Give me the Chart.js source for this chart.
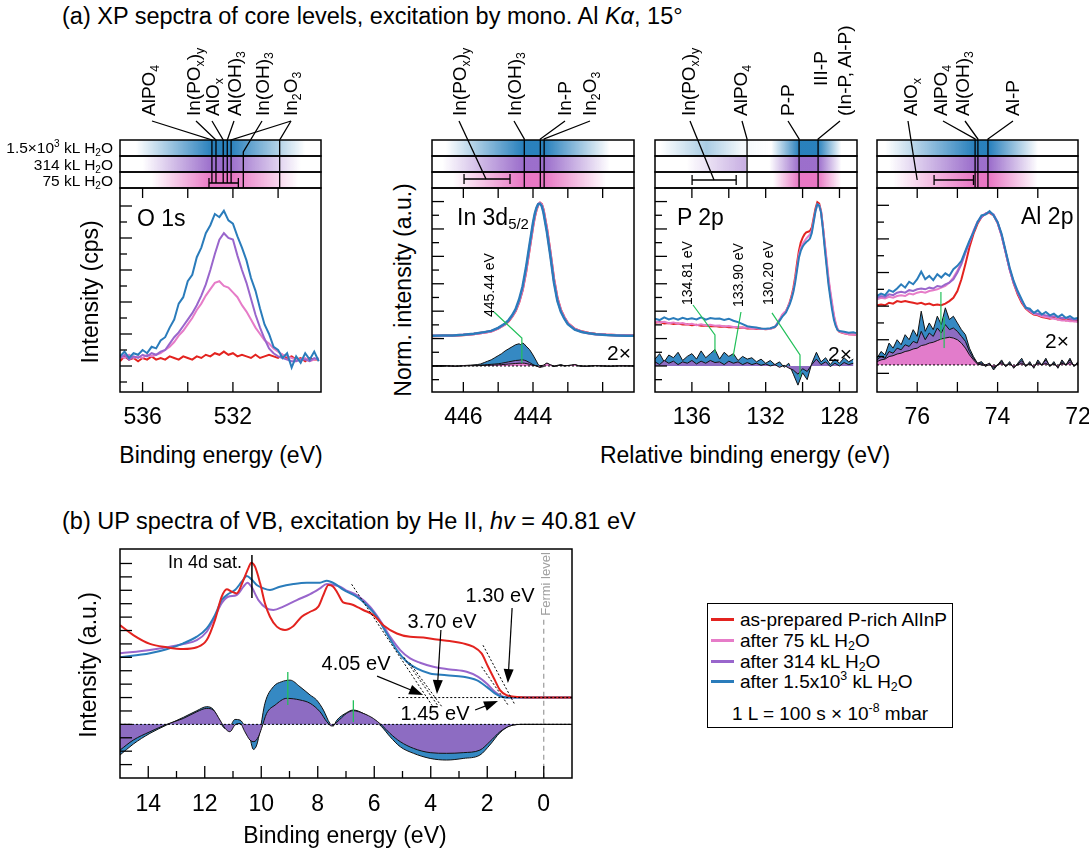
<!DOCTYPE html>
<html><head><meta charset="utf-8">
<script src="https://cdn.jsdelivr.net/npm/chart.js@4.4.1/dist/chart.umd.min.js"></script>
<style>
html,body{margin:0;padding:0;background:#fff;}
#fig{position:relative;width:1089px;height:851px;overflow:hidden;font-family:'Liberation Sans',Arial,Helvetica,sans-serif;color:#000;background:#fff;}
#fig canvas{position:absolute;}
.t{position:absolute;white-space:nowrap;line-height:1;}
.c{transform:translate(-50%,-50%);}
.lm{transform:translate(0,-50%);}
.rv{transform:translate(-50%,-50%) rotate(-90deg);}
sub,sup{font-size:0.65em;line-height:0;}
sub{vertical-align:-0.32em;} sup{vertical-align:0.6em;}
</style></head>
<body><div id="fig"></div>
<script>
// ---------------- DATA ----------------
// O 1s (binding energy, eV)
const O1S_E=[537.0,536.8,536.6,536.4,536.2,536.0,535.8,535.6,535.4,535.2,535.0,534.8,534.6,534.4,534.2,534.0,533.8,533.6,533.4,533.2,533.0,532.8,532.6,532.4,532.2,532.0,531.8,531.6,531.4,531.2,531.0,530.8,530.6,530.4,530.2,530.0,529.8,529.6,529.4,529.2,529.0,528.8,528.6,528.4,528.2];
const O1S_BLUE=[1.6,1.9,1.5,1.8,1.7,2.0,1.8,2.2,2.1,2.6,2.8,3.4,3.9,4.9,5.3,6.3,6.7,7.8,8.4,9.3,9.8,10.5,10.3,10.7,10.1,9.9,9.1,8.4,7.6,6.5,5.7,4.6,3.6,3.0,2.2,2.0,1.5,1.8,0.9,1.6,1.2,1.8,1.4,1.9,1.3];
const O1S_PURPLE=[1.5,1.7,1.4,1.6,1.5,1.7,1.6,1.8,1.7,1.9,2.0,2.4,2.8,3.1,3.5,3.9,4.3,4.8,5.4,6.1,7.0,8.0,8.9,9.3,9.0,8.9,7.9,7.0,6.2,5.2,4.2,3.4,2.7,2.1,1.8,1.6,1.5,1.4,1.3,1.3,1.4,1.4,1.3,1.5,1.4];
const O1S_PINK=[1.6,1.5,1.7,1.5,1.6,1.5,1.7,1.6,1.7,1.8,2.0,2.2,2.5,2.9,3.2,3.6,4.0,4.5,4.9,5.4,5.8,6.2,6.3,6.0,5.9,5.6,5.3,4.8,4.4,3.9,3.4,3.0,2.6,2.4,2.1,1.9,1.7,1.6,1.5,1.4,1.4,1.5,1.3,1.4,1.5];
const O1S_RED=[1.3,1.6,1.4,1.5,1.3,1.5,1.4,1.6,1.4,1.5,1.4,1.6,1.5,1.4,1.6,1.5,1.4,1.6,1.5,1.7,1.6,1.8,1.7,1.9,1.7,1.8,1.6,1.7,1.6,1.5,1.7,1.5,1.6,1.7,1.6,1.5,1.7,1.5,1.6,1.4,1.5,1.3,1.5,1.4,1.4];

// In 3d5/2 (relative binding energy, eV)
const IN_E=[446.9,446.6,446.3,446.0,445.7,445.4,445.2,445.0,444.8,444.7,444.6,444.5,444.4,444.3,444.2,444.1,444.0,443.95,443.9,443.85,443.8,443.75,443.7,443.6,443.5,443.4,443.3,443.2,443.1,443.0,442.8,442.6,442.4,442.2,441.9,441.6,441.3,441.1];
const IN_BLUE=[2.21,2.22,2.23,2.28,2.35,2.47,2.56,2.78,3.1,3.35,3.7,4.15,4.85,5.8,7.2,8.85,10.45,11.1,11.55,11.82,11.85,11.68,11.2,9.75,8.0,6.1,4.75,3.95,3.45,3.05,2.65,2.48,2.38,2.31,2.26,2.23,2.21,2.21];
const IN_PINK=[2.2,2.21,2.23,2.27,2.34,2.45,2.54,2.75,3.05,3.3,3.62,4.05,4.7,5.6,6.95,8.6,10.25,10.95,11.45,11.8,11.9,11.78,11.35,9.95,8.2,6.3,4.9,4.05,3.52,3.1,2.68,2.5,2.39,2.32,2.27,2.24,2.22,2.22];
const IN_RED=[2.19,2.2,2.22,2.26,2.33,2.44,2.53,2.74,3.04,3.28,3.6,4.02,4.66,5.55,6.9,8.55,10.2,10.9,11.42,11.78,11.9,11.8,11.4,10.0,8.25,6.35,4.95,4.08,3.55,3.12,2.7,2.51,2.4,2.33,2.28,2.25,2.23,2.22];
const IND_E=[446.9,446.5,446.2,446.0,445.8,445.6,445.5,445.4,445.3,445.2,445.1,445.0,444.9,444.8,444.7,444.6,444.5,444.4,444.35,444.3,444.25,444.2,444.1,444.0,443.9,443.85,443.8,443.7,443.6,443.5,443.4,443.3,443.2,443.1,442.9,442.8,442.7,442.5,442.2,441.8,441.5,441.1];
const IND_BLUE=[0,0.02,-0.03,0.03,0.06,0.1,0.15,0.25,0.35,0.45,0.6,0.75,0.9,1.1,1.25,1.4,1.55,1.62,1.55,1.68,1.6,1.45,1.2,0.8,0.35,0.1,0.02,0.05,0.2,0.08,-0.02,0.05,0.1,0.02,0.05,0.1,0.03,-0.03,0.02,-0.02,0.02,0];
const IND_PURPLE=[0,0.01,0.0,0.02,0.03,0.05,0.06,0.08,0.1,0.12,0.14,0.16,0.2,0.25,0.3,0.35,0.4,0.42,0.44,0.45,0.42,0.38,0.25,0.1,0.0,-0.05,-0.1,-0.05,0.15,0.05,-0.05,0.02,0.06,0.02,0.04,0.08,0.0,-0.02,0.03,-0.02,0.01,0];
const IND_PINK=[0,0,-0.02,0.01,0.02,0.02,0.03,0.04,0.05,0.06,0.07,0.08,0.1,0.12,0.14,0.16,0.18,0.2,0.2,0.21,0.2,0.18,0.12,0.05,0.0,-0.05,-0.08,0.05,0.22,0.08,0.0,0.03,0.04,0.0,0.06,0.1,0.02,-0.02,0.02,-0.01,0.01,0];

// P 2p
const P_E=[138.0,137.75,137.5,137.25,137.0,136.75,136.5,136.25,136.0,135.75,135.5,135.25,135.0,134.75,134.5,134.25,134.0,133.75,133.5,133.25,133.0,132.75,132.5,132.25,132.0,131.75,131.5,131.4,131.3,131.2,131.1,131.0,130.9,130.8,130.7,130.6,130.5,130.4,130.3,130.2,130.1,130.0,129.9,129.8,129.7,129.6,129.5,129.4,129.3,129.2,129.1,129.0,128.9,128.8,128.7,128.6,128.5,128.4,128.3,128.2,128.1,128.0,127.75,127.5,127.25,127.1];
const P_PINK=[3.25,3.18,3.22,3.12,3.18,3.08,3.14,3.03,3.08,2.98,3.04,2.96,3.0,2.93,2.95,2.88,2.92,2.84,2.85,2.79,2.8,2.74,2.74,2.69,2.7,2.7,2.85,3.05,3.3,3.5,3.75,3.9,4.0,4.3,4.6,5.0,5.5,6.3,7.2,8.1,8.6,8.9,9.1,9.3,9.45,9.6,9.9,10.6,11.3,11.8,11.75,11.3,10.2,9.0,7.8,6.5,5.5,4.6,3.7,3.1,2.7,2.5,2.4,2.32,2.3,2.27];
const P_RED=[3.15,3.2,3.1,3.14,3.06,3.1,3.02,3.05,2.98,3.0,2.93,2.96,2.9,2.92,2.86,2.88,2.82,2.84,2.78,2.8,2.74,2.76,2.7,2.72,2.68,2.72,2.84,3.0,3.25,3.45,3.7,3.85,4.0,4.3,4.65,5.1,5.7,6.5,7.5,8.4,9.0,9.35,9.6,9.75,9.8,9.85,10.1,10.8,11.5,11.95,11.85,11.3,10.2,8.9,7.6,6.3,5.3,4.4,3.6,3.0,2.65,2.48,2.38,2.32,2.3,2.28];
const P_BLUE=[3.45,3.35,3.55,3.4,3.5,3.38,3.52,3.42,3.48,3.4,3.55,3.38,3.5,3.44,3.46,3.36,3.45,3.3,3.2,3.05,2.9,2.85,2.8,2.74,2.72,2.76,2.86,3.0,3.2,3.4,3.6,3.75,3.9,4.2,4.5,4.9,5.4,6.1,7.0,7.9,8.4,8.7,8.9,9.05,9.15,9.3,9.7,10.5,11.3,11.8,11.7,11.2,10.0,8.6,7.3,6.0,5.0,4.1,3.35,2.9,2.62,2.55,2.5,2.42,2.46,2.4];
const PD_E=[138.0,137.75,137.5,137.25,137.0,136.75,136.5,136.25,136.0,135.75,135.5,135.25,135.0,134.75,134.5,134.25,134.0,133.75,133.5,133.25,133.0,132.75,132.5,132.25,132.0,131.75,131.5,131.25,131.0,130.75,130.5,130.25,130.0,129.75,129.5,129.25,129.0,128.75,128.5,128.25,128.0,127.75,127.5,127.25];
const PD_BLUE=[0.5,0.9,0.3,0.8,0.6,1.0,0.4,0.7,0.9,0.5,1.1,0.6,0.9,1.2,0.5,1.0,0.7,0.9,0.4,0.7,0.5,0.6,0.3,0.5,0.2,0.4,0.1,0.3,-0.1,0.2,-0.6,-1.4,-0.5,-1.0,0.2,1.0,0.3,0.6,0.1,0.5,0.2,0.6,0.3,0.5];
const PD_PURPLE=[0.3,0.1,0.4,0.2,0.35,0.1,0.3,0.2,0.4,0.15,0.35,0.2,0.4,0.25,0.3,0.1,0.35,0.2,0.3,0.1,0.25,0.1,0.2,0.05,0.15,0.0,0.1,-0.1,0.05,-0.15,-0.3,-0.6,-0.2,-0.4,0.1,0.5,0.1,0.3,-0.05,0.2,0.0,0.25,0.1,0.2];

// Al 2p
const AL_E=[77.0,76.9,76.8,76.7,76.6,76.5,76.4,76.3,76.2,76.1,76.0,75.9,75.8,75.7,75.6,75.5,75.4,75.3,75.2,75.1,75.0,74.9,74.8,74.7,74.6,74.5,74.4,74.3,74.2,74.1,74.0,73.9,73.8,73.7,73.6,73.5,73.4,73.3,73.2,73.1,73.0,72.9,72.8,72.7,72.6,72.5,72.4,72.3,72.2,72.1,72.0];
const AL_BLUE=[4.6,4.75,4.65,4.95,4.85,5.05,5.3,5.1,5.45,5.3,5.6,6.05,5.6,5.8,5.55,5.9,5.7,5.95,5.8,6.2,6.4,6.7,7.3,7.9,8.4,9.0,9.4,9.45,9.65,9.4,9.0,8.3,7.3,6.3,5.5,4.9,4.4,3.9,3.85,3.6,3.75,3.5,3.65,3.45,3.55,3.35,3.5,3.3,3.4,3.25,3.3];
const AL_PURPLE=[4.5,4.6,4.55,4.7,4.65,4.8,4.85,4.8,4.95,4.9,5.0,5.05,5.0,5.1,5.05,5.2,5.15,5.3,5.4,5.6,6.0,6.5,7.2,7.8,8.4,9.0,9.3,9.5,9.6,9.45,9.0,8.2,7.2,6.2,5.4,4.8,4.3,3.95,3.75,3.6,3.55,3.5,3.45,3.4,3.4,3.35,3.3,3.3,3.25,3.2,3.2];
const AL_PINK=[4.4,4.5,4.45,4.55,4.5,4.6,4.65,4.6,4.75,4.7,4.8,4.85,4.8,4.9,4.95,5.0,5.1,5.2,5.4,5.7,6.1,6.6,7.2,7.8,8.5,9.0,9.35,9.5,9.6,9.4,8.95,8.2,7.2,6.2,5.4,4.8,4.3,3.9,3.7,3.55,3.5,3.4,3.35,3.3,3.25,3.2,3.15,3.15,3.1,3.1,3.05];
const AL_RED=[4.05,4.1,4.05,4.2,4.15,4.3,4.25,4.3,4.25,4.2,4.15,4.2,4.1,4.15,4.05,4.1,4.05,4.15,4.3,4.5,4.9,5.6,6.5,7.5,8.3,8.9,9.3,9.5,9.55,9.4,8.95,8.2,7.2,6.2,5.35,4.7,4.2,3.85,3.65,3.5,3.45,3.35,3.3,3.25,3.3,3.2,3.25,3.15,3.2,3.1,3.15];
const ALD_BLUE=[0.9,1.3,1.1,1.8,1.5,2.0,1.7,2.3,2.0,2.6,2.2,3.7,2.5,3.0,2.6,3.4,2.9,3.9,3.2,3.4,3.0,2.6,2.3,1.5,1.0,0.6,0.7,0.4,0.6,0.2,0.5,0.8,0.4,0.7,0.3,0.6,0.9,0.4,0.7,0.3,0.8,0.5,0.9,0.4,0.7,0.3,0.8,0.5,0.9,0.4,0.7];
const ALD_PURPLE=[0.8,1.0,0.9,1.3,1.2,1.5,1.4,1.7,1.6,1.9,1.8,2.5,2.0,2.4,2.2,2.7,2.4,2.9,2.6,2.7,2.5,2.2,1.9,1.3,0.9,0.6,0.6,0.5,0.6,0.3,0.5,0.7,0.4,0.6,0.35,0.55,0.75,0.45,0.6,0.35,0.7,0.5,0.8,0.45,0.6,0.35,0.7,0.5,0.8,0.45,0.6];
const ALD_PINK=[0.7,0.8,0.85,1.0,1.05,1.15,1.2,1.3,1.35,1.45,1.5,1.65,1.7,1.8,1.85,1.95,2.05,2.1,2.15,2.1,2.0,1.8,1.5,1.1,0.8,0.55,0.5,0.45,0.5,0.4,0.5,0.6,0.45,0.55,0.4,0.5,0.6,0.45,0.55,0.4,0.6,0.5,0.6,0.45,0.55,0.4,0.6,0.5,0.65,0.45,0.55];

// UPS valence band (binding energy, eV)
const VB_RED_E=[15.0,14.53,13.94,13.35,12.76,12.28,11.93,11.64,11.4,11.22,11.05,10.87,10.63,10.46,10.35,10.22,10.04,9.87,9.69,9.45,9.16,8.86,8.57,8.27,7.98,7.8,7.62,7.45,7.3,7.1,6.9,6.74,6.55,6.39,6.03,5.68,5.2,4.73,4.26,3.79,3.33,2.85,2.5,2.2,1.97,1.73,1.55,1.32,1.04,0.8,0.4,-1.0];
const VB_RED=[7.4,6.66,6.0,5.75,5.62,5.75,6.29,7.78,9.52,10.07,9.9,9.77,10.77,11.64,12.06,11.76,10.52,9.03,8.03,7.29,7.04,7.34,8.03,8.4,8.78,9.65,10.4,10.27,9.8,9.1,9.0,8.9,8.7,8.53,8.16,7.4,6.78,6.53,6.48,6.33,6.21,6.04,5.79,5.29,4.3,3.3,2.56,2.18,2.06,2.02,2.0,2.0];
const VB_BLUE_E=[15.0,13.94,13.35,12.76,12.28,11.93,11.64,11.4,11.17,10.93,10.69,10.51,10.35,10.16,9.93,9.69,9.34,8.86,8.39,7.92,7.68,7.4,7.1,6.62,6.27,5.91,5.56,5.2,4.85,4.5,4.03,3.44,2.85,2.38,2.02,1.73,1.5,1.2,0.5,-1.0];
const VB_BLUE=[5.0,5.3,5.6,6.04,6.54,7.16,8.15,9.27,9.72,10.02,10.64,11.07,10.82,10.39,10.15,10.02,10.27,10.47,10.57,10.57,10.72,10.5,10.05,9.52,8.9,8.03,6.78,5.54,4.67,4.17,3.8,3.67,3.55,3.3,2.8,2.31,2.06,2.0,2.0,2.0];
const VB_PURPLE_E=[15.0,13.94,13.35,12.76,12.28,11.93,11.64,11.4,11.17,10.87,10.63,10.49,10.35,10.1,9.81,9.57,9.22,8.74,8.27,7.92,7.68,7.21,7.0,6.62,6.15,5.8,5.44,5.08,4.73,4.38,3.91,3.32,2.73,2.32,2.02,1.73,1.5,1.2,0.5,-1.0];
const VB_PURPLE=[5.3,5.55,5.75,6.0,6.29,6.91,8.03,9.03,9.52,9.65,10.27,10.57,10.27,9.27,8.65,8.53,8.78,9.27,9.72,10.15,10.47,10.27,10.0,9.65,8.78,7.78,6.54,5.54,4.92,4.6,4.3,4.1,3.92,3.55,3.05,2.43,2.11,2.0,2.0,2.0];
const VBD_PURPLE_E=[15.0,14.53,13.94,13.35,12.76,12.28,11.93,11.7,11.46,11.28,11.11,10.93,10.75,10.58,10.4,10.26,10.1,9.99,9.81,9.51,9.1,8.63,8.27,7.92,7.68,7.51,7.33,6.98,6.74,6.39,6.03,5.74,5.44,5.08,4.61,4.02,3.44,2.85,2.26,1.91,1.55,1.2,0.73,-1.0];
const VBD_PURPLE=[-1.92,-1.17,-0.55,0.0,0.44,0.94,1.19,1.07,0.32,-0.3,-0.55,-0.05,0.07,-0.55,-1.17,-1.29,-0.92,-0.3,0.82,1.44,1.94,1.82,1.57,0.94,0.2,-0.12,0.15,0.82,1.02,0.82,0.44,-0.05,-0.68,-1.29,-1.79,-2.11,-2.16,-2.11,-1.92,-1.29,-0.55,-0.12,0.0,0.0];
const VBD_BLUE_E=[15.0,14.53,13.94,13.35,12.76,12.28,11.93,11.7,11.46,11.28,11.11,10.93,10.75,10.58,10.4,10.28,10.16,10.04,9.87,9.57,9.28,8.98,8.63,8.27,8.04,7.8,7.57,7.45,7.33,6.98,6.74,6.39,6.03,5.74,5.44,5.08,4.61,4.02,3.44,2.85,2.26,1.91,1.55,1.2,0.73,-1.0];
const VBD_BLUE=[-2.29,-1.47,-0.67,-0.05,0.52,1.02,1.32,1.12,0.2,-0.3,-0.17,0.37,0.32,-0.17,-1.04,-1.87,-1.54,-0.42,1.57,2.81,3.18,3.3,2.81,2.19,1.82,1.07,0.07,-0.12,0.3,0.87,1.07,0.82,0.32,-0.17,-0.92,-1.67,-2.16,-2.54,-2.66,-2.54,-2.29,-1.54,-0.62,-0.12,0.0,0.0];

// tick values / labels
const O1S_XTICKS=[536,534,532,530], O1S_XLABELS=[536,532];
const IN_XTICKS=[446,445,444,443,442], IN_XLABELS=[446,444];
const P_XTICKS=[136,134,132,130,128], P_XLABELS=[136,132,128];
const AL_XTICKS=[76,75,74,73], AL_XLABELS=[76,74,72];
const VB_XTICKS=[14,13,12,11,10,9,8,7,6,5,4,3,2,1,0], VB_XLABELS=[14,12,10,8,6,4,2,0];
const SERIES_NAMES=['as-prepared P-rich AlInP','after 75 kL H<sub>2</sub>O','after 314 kL H<sub>2</sub>O','after 1.5x10<sup>3</sup> kL H<sub>2</sub>O'];

// ---------------- STYLE ----------------
const COL={red:'#e3231f',pink:'#e67cc8',purple:'#9966cc',blue:'#2a7cbb'};
const FILL={blue:'#3589c3',purple:'#8d6cc2',pink:'#e27ccb'};
const ROWCOL=['30,122,185','145,95,198','228,96,186'];
const FONT='"Liberation Sans", Arial, Helvetica, sans-serif';
const fig=document.getElementById('fig');

function pts(E,V){return E.map((e,i)=>({x:e,y:V[i]}));}
function line(E,V,color,order,w){return {data:pts(E,V),borderColor:color,borderWidth:w||2,pointRadius:0,fill:false,order:order,tension:0};}
function diff(E,V,color,order,base){return {data:pts(E,V),borderColor:'#111',borderWidth:1,backgroundColor:color,pointRadius:0,fill:{value:base||0},order:order,tension:0};}

function txt(html,css){const d=document.createElement('div');d.className='t';d.innerHTML=html;d.style.cssText+=css;fig.appendChild(d);return d;}
function vlabel(html,xc,yb,fs){const h=Math.round(fs*1.2);txt(html,`left:${xc-h/2}px;top:${yb}px;line-height:${h}px;font-size:${fs}px;transform-origin:0 0;transform:rotate(-90deg);`);}

function drawArrow(ctx,x1,y1,x2,y2,hl,hw){
  const a=Math.atan2(y2-y1,x2-x1);
  ctx.beginPath();ctx.moveTo(x1,y1);ctx.lineTo(x2-hl*0.8*Math.cos(a),y2-hl*0.8*Math.sin(a));ctx.stroke();
  ctx.beginPath();ctx.moveTo(x2,y2);
  ctx.lineTo(x2-hl*Math.cos(a)+hw*Math.sin(a),y2-hl*Math.sin(a)-hw*Math.cos(a));
  ctx.lineTo(x2-hl*Math.cos(a)-hw*Math.sin(a),y2-hl*Math.sin(a)+hw*Math.cos(a));
  ctx.closePath();ctx.fill();
}

function makePanel(p){
  const cv=document.createElement('canvas');
  cv.width=p.box[2];cv.height=p.box[3];
  cv.style.left=p.box[0]+'px';cv.style.top=p.box[1]+'px';
  cv.style.width=p.box[2]+'px';cv.style.height=p.box[3]+'px';
  fig.appendChild(cv);
  const plugin={id:'deco',
    beforeDatasetsDraw(chart){const ctx=chart.ctx;ctx.save();if(p.before)p.before(chart,ctx);ctx.restore();},
    afterDatasetsDraw(chart){
      const ctx=chart.ctx,ca=chart.chartArea,xs=chart.scales.x,ys=chart.scales.y;
      ctx.save();
      ctx.strokeStyle='#000';ctx.fillStyle='#000';
      if(p.after)p.after(chart,ctx);
      ctx.setLineDash([]);ctx.strokeStyle='#000';ctx.fillStyle='#000';
      ctx.lineWidth=1.5;
      ctx.strokeRect(ca.left,ca.top,ca.right-ca.left,ca.bottom-ca.top);
      ctx.lineWidth=1.3;
      p.xticks.forEach(v=>{const x=xs.getPixelForValue(v);const L=p.xtickLen(v);
        ctx.beginPath();ctx.moveTo(x,ca.bottom);ctx.lineTo(x,ca.bottom-L);ctx.stroke();
        if(p.topTicks){ctx.beginPath();ctx.moveTo(x,ca.top);ctx.lineTo(x,ca.top+L);ctx.stroke();}});
      p.yticks.forEach((v,i)=>{const y=ys.getPixelForValue(v);const L=p.ytickLen(v,i);
        ctx.beginPath();ctx.moveTo(ca.left,y);ctx.lineTo(ca.left+L,y);ctx.stroke();});
      ctx.font='23px '+FONT;ctx.textAlign='center';ctx.textBaseline='middle';
      p.xlabels.forEach(v=>{ctx.fillText(String(v),xs.getPixelForValue(v),ca.bottom+p.labelDy);});
      ctx.restore();
    }};
  return new Chart(cv.getContext('2d'),{type:'line',data:{datasets:p.datasets},
    options:{responsive:false,animation:false,devicePixelRatio:1,events:[],
      layout:{padding:p.pad},
      plugins:{legend:{display:false},tooltip:{enabled:false}},
      elements:{point:{radius:0}},
      scales:{x:{type:'linear',reverse:true,min:p.xr[1],max:p.xr[0],display:false},
              y:{type:'linear',min:p.yr[0],max:p.yr[1],display:false}}},
    plugins:[plugin]});
}

function headerDraw(H,ox,oy){
  return function(chart,ctx){
    const ca=chart.chartArea,xs=chart.scales.x;
    const top=ca.top-48,rh=16;
    H.rows.forEach((stops,i)=>{
      const y=top+i*rh;
      const pp=stops.map(s=>[xs.getPixelForValue(s[0]),s[1]]);
      const x0=pp[0][0],x1=pp[pp.length-1][0];
      const g=ctx.createLinearGradient(x0,0,x1,0);
      pp.forEach(q=>g.addColorStop(Math.min(1,Math.max(0,(q[0]-x0)/(x1-x0))),`rgba(${ROWCOL[i]},${q[1]})`));
      ctx.fillStyle=g;ctx.fillRect(ca.left,y,ca.right-ca.left,rh);
    });
    ctx.strokeStyle='#000';ctx.lineWidth=1.5;
    for(let i=0;i<3;i++)ctx.strokeRect(ca.left,top+i*rh,ca.right-ca.left,rh);
    ctx.lineWidth=1.3;
    H.comps.forEach(c=>{const x=xs.getPixelForValue(c.E);ctx.beginPath();
      ctx.moveTo(c.lab[0]-ox,c.lab[1]-oy);ctx.lineTo(x,c.y0-oy);ctx.lineTo(x,c.y1-oy);ctx.stroke();});
    const b=H.bar;
    if(b){const xa=xs.getPixelForValue(b.E0),xb=xs.getPixelForValue(b.E1),y=b.y-oy;
      ctx.beginPath();ctx.moveTo(xa,y);ctx.lineTo(xb,y);
      ctx.moveTo(xa,y-5);ctx.lineTo(xa,y+5);ctx.moveTo(xb,y-5);ctx.lineTo(xb,y+5);ctx.stroke();
      if(b.lab){ctx.beginPath();ctx.moveTo(b.lab[0]-ox,b.lab[1]-oy);ctx.lineTo(xs.getPixelForValue(b.Em),y);ctx.stroke();}}
  };
}
function greenLines(list){
  return function(chart,ctx){
    const xs=chart.scales.x,ys=chart.scales.y;
    ctx.strokeStyle='#22c05a';ctx.lineWidth=1.2;
    list.forEach(pl=>{ctx.beginPath();pl.forEach((q,i)=>{const x=xs.getPixelForValue(q[0]),y=ys.getPixelForValue(q[1]);i?ctx.lineTo(x,y):ctx.moveTo(x,y);});ctx.stroke();});
  };
}
function dotted(ctx,chart,E0,v0,E1,v1){const xs=chart.scales.x,ys=chart.scales.y;
  ctx.beginPath();ctx.moveTo(xs.getPixelForValue(E0),ys.getPixelForValue(v0));ctx.lineTo(xs.getPixelForValue(E1),ys.getPixelForValue(v1));ctx.stroke();}

const altLen=(v,i)=>(i%2===0?12:7);

// ---------- O 1s ----------
const O1S_BOX=[110,105,221,335];
makePanel({box:O1S_BOX,pad:{left:10,right:10,top:83,bottom:48},xr:[537,528.1],yr:[-0.625,12.125],
  datasets:[line(O1S_E,O1S_BLUE,COL.blue,0),line(O1S_E,O1S_PURPLE,COL.purple,1),line(O1S_E,O1S_PINK,COL.pink,2),line(O1S_E,O1S_RED,COL.red,3)],
  xticks:O1S_XTICKS,xlabels:O1S_XLABELS,xtickLen:()=>10,topTicks:true,
  yticks:[11,10,9,8,7,6,5,4,3,2,1,0],ytickLen:altLen,labelDy:26,
  before:headerDraw({rows:[
      [[536.3,0],[532.95,0.95],[532.1,0.95],[528.8,0]],
      [[536.0,0],[532.95,0.9],[532.1,0.9],[529.0,0]],
      [[535.6,0],[532.95,0.85],[532.0,0.85],[529.1,0]]],
    comps:[{E:532.93,y0:140,y1:183,lab:[152,121]},{E:532.75,y0:140,y1:183,lab:[196,121]},{E:532.43,y0:140,y1:183,lab:[212,121]},
           {E:532.25,y0:140,y1:183,lab:[234,121]},{E:532.08,y0:140,y1:183,lab:[291,121]},{E:531.54,y0:152,y1:188,lab:[262,121]},{E:529.93,y0:140,y1:188,lab:[291,121]}],
    bar:{E0:533.06,E1:531.76,y:183}},O1S_BOX[0],O1S_BOX[1])});

// ---------- In 3d ----------
const IN_BOX=[422,105,222,335];
makePanel({box:IN_BOX,pad:{left:10,right:10,top:83,bottom:48},xr:[446.9,441.1],yr:[-1.9,12.99],
  datasets:[line(IN_E,IN_BLUE,COL.blue,0,2.5),line(IN_E,IN_PINK,COL.pink,1,2.5),line(IN_E,IN_RED,COL.red,2,2.5),
            diff(IND_E,IND_PINK,FILL.pink,3),diff(IND_E,IND_PURPLE,FILL.purple,4),diff(IND_E,IND_BLUE,FILL.blue,5)],
  xticks:IN_XTICKS,xlabels:IN_XLABELS,xtickLen:()=>10,topTicks:true,
  yticks:[12,11,10,9,8,7,6,5,4,3,2,1,0,-1],ytickLen:altLen,labelDy:26,
  before:headerDraw({rows:[
      [[446.5,0],[444.3,0.95],[443.65,0.95],[441.8,0]],
      [[446.6,0],[444.3,0.9],[443.65,0.9],[441.8,0]],
      [[446.3,0],[444.3,0.85],[443.65,0.85],[441.9,0]]],
    comps:[{E:444.25,y0:139,y1:188,lab:[514,121]},{E:443.79,y0:139,y1:188,lab:[565,121]},{E:443.68,y0:139,y1:188,lab:[590,121]}],
    bar:{E0:445.98,E1:444.66,y:179,Em:445.35,lab:[459,121]}},IN_BOX[0],IN_BOX[1]),
  after:function(chart,ctx){
    ctx.setLineDash([2,2]);ctx.lineWidth=1;dotted(ctx,chart,446.9,0,441.1,0);ctx.setLineDash([]);
    greenLines([[[445.12,3.94],[444.32,2.04],[444.32,0.22]]])(chart,ctx);}});

// ---------- P 2p ----------
const P_BOX=[645,105,222,335];
makePanel({box:P_BOX,pad:{left:10,right:10,top:83,bottom:48},xr:[138,127.05],yr:[-1.9,12.99],
  datasets:[line(P_E,P_BLUE,COL.blue,0),line(P_E,P_PINK,COL.pink,1),line(P_E,P_RED,COL.red,2),
            diff(PD_E,PD_PURPLE,FILL.purple,3),diff(PD_E,PD_BLUE,FILL.blue,4)],
  xticks:P_XTICKS,xlabels:P_XLABELS,xtickLen:()=>10,topTicks:true,
  yticks:[12,11,10,9,8,7,6,5,4,3,2,1,0,-1],ytickLen:altLen,labelDy:26,
  before:headerDraw({rows:[
      [[137.7,0],[135.2,0.38],[133.3,0.05],[131.7,0],[130.2,0.95],[129.15,0.95],[127.9,0]],
      [[136.3,0],[133.1,0.5],[133.0,0],[131.8,0],[130.2,0.9],[129.15,0.9],[127.9,0]],
      [[131.6,0],[130.2,0.85],[129.15,0.85],[127.9,0]]],
    comps:[{E:133.01,y0:139,y1:188,lab:[742,121]},{E:130.19,y0:139,y1:188,lab:[788,121]},{E:129.16,y0:139,y1:188,lab:[840,121]}],
    bar:{E0:135.99,E1:133.6,y:180,Em:134.8,lab:[690,121]}},P_BOX[0],P_BOX[1]),
  after:greenLines([[[135.94,4.45],[134.75,2.26],[134.75,0.95]],[[133.34,3.94],[133.77,0.66]],[[131.66,3.87],[130.14,0.8],[130.14,-0.8]]])});

// ---------- Al 2p ----------
const AL_BOX=[867,105,222,335];
makePanel({box:AL_BOX,pad:{left:10,right:11,top:83,bottom:48},xr:[77,72],yr:[-1.11,11.03],
  datasets:[line(AL_E,AL_BLUE,COL.blue,0),line(AL_E,AL_PURPLE,COL.purple,1),line(AL_E,AL_PINK,COL.pink,2),line(AL_E,AL_RED,COL.red,3),
            diff(AL_E,ALD_PINK,FILL.pink,4,0.5),diff(AL_E,ALD_PURPLE,FILL.purple,5,0.5),diff(AL_E,ALD_BLUE,FILL.blue,6,0.5)],
  xticks:AL_XTICKS,xlabels:AL_XLABELS,xtickLen:()=>10,topTicks:true,
  yticks:[10,9,8,7,6,5,4,3,2,1,0],ytickLen:altLen,labelDy:26,
  before:headerDraw({rows:[
      [[76.8,0],[74.6,0.95],[74.2,0.95],[73.0,0]],
      [[76.7,0],[74.6,0.9],[74.2,0.9],[73.0,0]],
      [[76.6,0],[74.6,0.85],[74.2,0.85],[73.0,0]]],
    comps:[{E:74.56,y0:139,y1:188,lab:[943,121]},{E:74.49,y0:139,y1:188,lab:[965,121]},{E:74.24,y0:139,y1:188,lab:[1013,121]}],
    bar:{E0:75.58,E1:74.6,y:180,Em:76.0,lab:[908,121]}},AL_BOX[0],AL_BOX[1]),
  after:function(chart,ctx){
    ctx.setLineDash([2,2]);ctx.lineWidth=1;dotted(ctx,chart,77,0.5,72,0.5);ctx.setLineDash([]);
    greenLines([[[75.41,4.84],[75.41,1.98]],[[75.33,3.35],[75.33,1.51]]])(chart,ctx);}});

// ---------- (b) UPS ----------
const VB_BOX=[100,540,480,310];
makePanel({box:VB_BOX,pad:{left:20,right:8,top:9,bottom:72},xr:[15,-1],yr:[-4.0,13.08],
  datasets:[Object.assign(line(VB_RED_E,VB_RED,COL.red,0),{cubicInterpolationMode:'monotone'}),
            Object.assign(line(VB_BLUE_E,VB_BLUE,COL.blue,1),{cubicInterpolationMode:'monotone'}),
            Object.assign(line(VB_PURPLE_E,VB_PURPLE,COL.purple,2),{cubicInterpolationMode:'monotone'}),
            Object.assign(diff(VBD_PURPLE_E,VBD_PURPLE,FILL.purple,3),{cubicInterpolationMode:'monotone'}),
            Object.assign(diff(VBD_BLUE_E,VBD_BLUE,FILL.blue,4),{cubicInterpolationMode:'monotone'})],
  xticks:VB_XTICKS,xlabels:VB_XLABELS,xtickLen:v=>(v%2===0?12:7),topTicks:false,
  yticks:[12,11,10,9,8,7,6,5,4,3,2,1,0,-1,-2,-3],ytickLen:()=>12,labelDy:27,
  before:function(chart,ctx){
    ctx.strokeStyle='#9a9a9a';ctx.lineWidth=1.2;ctx.setLineDash([5,4]);dotted(ctx,chart,0,7.8,0,-4.0);ctx.setLineDash([]);},
  after:function(chart,ctx){
    const xs=chart.scales.x,ys=chart.scales.y;const X=v=>xs.getPixelForValue(v),Y=v=>ys.getPixelForValue(v);
    ctx.strokeStyle='#000';ctx.lineWidth=1;ctx.setLineDash([2,2]);
    dotted(ctx,chart,15,0,-1,0);
    dotted(ctx,chart,5.15,2,-1,2);
    dotted(ctx,chart,6.8,10.45,3.95,1.4);
    dotted(ctx,chart,4.95,5.0,3.75,1.4);
    dotted(ctx,chart,4.75,4.6,3.6,1.3);
    dotted(ctx,chart,2.15,5.9,1.03,1.5);
    dotted(ctx,chart,2.2,4.3,1.25,1.4);
    ctx.setLineDash([]);
    ctx.lineWidth=1.5;ctx.beginPath();ctx.moveTo(X(10.33),Y(12.63));ctx.lineTo(X(10.33),Y(9.43));ctx.stroke();
    ctx.strokeStyle='#22c05a';ctx.lineWidth=1.3;
    ctx.beginPath();ctx.moveTo(X(9.06),Y(3.9));ctx.lineTo(X(9.06),Y(1.44));ctx.stroke();
    ctx.beginPath();ctx.moveTo(X(6.74),Y(1.8));ctx.lineTo(X(6.74),Y(0.17));ctx.stroke();
    ctx.strokeStyle='#000';ctx.fillStyle='#000';ctx.lineWidth=1.2;
    drawArrow(ctx,X(1.12),Y(8.68),X(1.27),Y(3.08),14,5);
    drawArrow(ctx,X(3.64),Y(7.04),X(3.78),Y(2.27),14,5);
    drawArrow(ctx,X(5.9),Y(3.6),X(4.27),Y(2.19),14,5);
    drawArrow(ctx,X(2.43),Y(1.07),X(1.62),Y(1.74),14,5);
  }});

// ---------------- TEXT ----------------
txt('(a) XP sepctra of core levels, excitation by mono. Al <i>K&alpha;</i>, 15°','left:62px;top:17px;font-size:23.5px;transform:translate(0,-50%);');
txt('1.5×10<sup>3</sup> kL H<sub>2</sub>O','right:976px;top:148px;font-size:15.5px;transform:translate(0,-50%);');
txt('314 kL H<sub>2</sub>O','right:976px;top:164.5px;font-size:15.5px;transform:translate(0,-50%);');
txt('75 kL H<sub>2</sub>O','right:976px;top:181px;font-size:15.5px;transform:translate(0,-50%);');

const HEAD_LABELS=[
 ['AlPO<sub>4</sub>',148,116],['In(PO<sub>x</sub>)<sub>y</sub>',193,116],['AlO<sub>x</sub>',212,116],['Al(OH)<sub>3</sub>',234,116],['In(OH)<sub>3</sub>',262,116],['In<sub>2</sub>O<sub>3</sub>',290,116],
 ['In(PO<sub>x</sub>)<sub>y</sub>',459,116],['In(OH)<sub>3</sub>',514,116],['In-P',564,116],['In<sub>2</sub>O<sub>3</sub>',589,116],
 ['In(PO<sub>x</sub>)<sub>y</sub>',688,116],['AlPO<sub>4</sub>',740,116],['P-P',787,116],['III-P',820,86],['(In-P, Al-P)',844,116],
 ['AlO<sub>x</sub>',910,116],['AlPO<sub>4</sub>',940,116],['Al(OH)<sub>3</sub>',962,116],['Al-P',1012,116]];
HEAD_LABELS.forEach(l=>vlabel(l[0],l[1],l[2],19));

txt('O 1s','left:137px;top:218px;font-size:23px;transform:translate(0,-50%);');
txt('In 3d<sub>5/2</sub>','left:457px;top:217px;font-size:23px;transform:translate(0,-50%);');
txt('P 2p','left:677px;top:217px;font-size:23px;transform:translate(0,-50%);');
txt('Al 2p','left:1021px;top:216px;font-size:23px;transform:translate(0,-50%);');
txt('2×','left:619px;top:352px;font-size:21px;',).classList.add('c');
txt('2×','left:840px;top:353px;font-size:21px;').classList.add('c');
txt('2×','left:1057px;top:340px;font-size:21px;').classList.add('c');
vlabel('445.44 eV',489,317,14);
vlabel('134.81 eV',687,305,14);
vlabel('133.90 eV',738,307,14);
vlabel('130.20 eV',768,305,14);

txt('Intensity (cps)','left:90px;top:292px;font-size:23px;').classList.add('rv');
txt('Norm. intensity (a.u.)','left:403px;top:290px;font-size:23px;').classList.add('rv');
txt('Binding energy (eV)','left:221px;top:455px;font-size:23px;').classList.add('c');
txt('Relative binding energy (eV)','left:745px;top:455px;font-size:23px;').classList.add('c');

txt('(b) UP spectra of VB, excitation by He II, <i>hv</i> = 40.81 eV','left:62px;top:522px;font-size:23.5px;transform:translate(0,-50%);');
txt('In 4d sat.','left:205px;top:562px;font-size:18px;').classList.add('c');
txt('1.30 eV','left:500px;top:595px;font-size:20px;').classList.add('c');
txt('3.70 eV','left:442px;top:621px;font-size:20px;').classList.add('c');
txt('4.05 eV','left:356px;top:663px;font-size:20px;').classList.add('c');
txt('1.45 eV','left:435px;top:713px;font-size:20px;').classList.add('c');
txt('Fermi level','left:545px;top:584px;font-size:13px;color:#a0a0a0;').classList.add('rv');
txt('Intensity (a.u.)','left:88px;top:665px;font-size:23px;').classList.add('rv');
txt('Binding energy (eV)','left:345px;top:835px;font-size:23px;').classList.add('c');

// legend
const lg=document.createElement('div');
lg.style.cssText='position:absolute;left:707px;top:603px;width:246px;height:125px;border:1.5px solid #000;box-sizing:border-box;';
fig.appendChild(lg);
const LEG_COLS=[COL.red,COL.pink,COL.purple,COL.blue];
const LEG_Y=[619,640,661,681];
SERIES_NAMES.forEach((n,i)=>{
  const s=document.createElement('div');
  s.style.cssText=`position:absolute;left:711px;top:${LEG_Y[i]-1.5}px;width:23px;height:3px;background:${LEG_COLS[i]};`;
  fig.appendChild(s);
  txt(n,`left:740px;top:${LEG_Y[i]}px;font-size:19px;transform:translate(0,-50%);`);
});
txt('1 L = 100 s × 10<sup>-8</sup> mbar','left:830px;top:713px;font-size:19px;').classList.add('c');
</script>
</body></html>
